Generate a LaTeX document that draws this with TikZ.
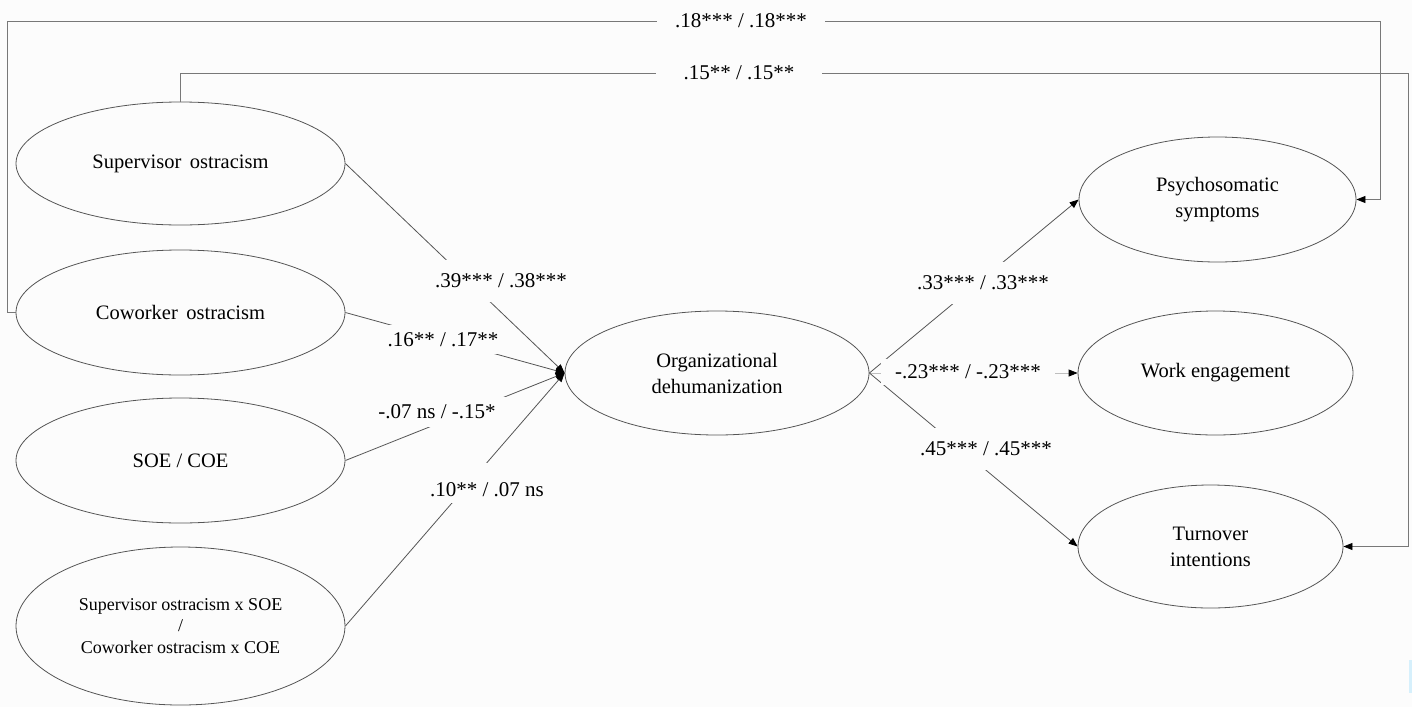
\documentclass[tikz,border=0pt]{standalone}
\usepackage{fontspec}
\setmainfont{Liberation Serif}
\usetikzlibrary{shapes.geometric,arrows.meta}
\definecolor{bg}{RGB}{252,252,252}
\definecolor{ln}{RGB}{85,85,85}
\definecolor{lntop}{RGB}{120,120,120}
\definecolor{lnlight}{RGB}{190,190,190}
\definecolor{sliver}{RGB}{214,240,252}
\tikzset{
  var/.style={ellipse,draw=ln,line width=0.8pt,inner sep=0pt,align=center,
    font=\fontsize{20.5}{26}\selectfont},
  conn/.style={draw=ln,line width=0.8pt},
  topconn/.style={draw=lntop,line width=0.8pt},
  tip/.style={-{Triangle[length=9pt,width=7pt,color=black]}},
  coef/.style={fill=bg,font=\fontsize{21}{25}\selectfont,inner sep=0pt}
}
\begin{document}
\begin{tikzpicture}[x=1pt,y=-1pt]
\fill[bg] (0,0) rectangle (1412,707);
\useasboundingbox (0,0) rectangle (1412,707);
\fill[sliver] (1409,660) rectangle (1412,693);

% ellipses
\node[var,minimum width=329pt,minimum height=123pt] (sup) at (180.5,163.5) {Supervisor\hspace{0.42em}ostracism};
\node[var,minimum width=329pt,minimum height=125pt] (cow) at (180.5,312.5) {Coworker\hspace{0.42em}ostracism};
\node[var,minimum width=329pt,minimum height=125pt] (soe) at (180.5,460.5) {SOE / COE};
\node[var,minimum width=329pt,minimum height=158pt,font=\fontsize{18}{21.5}\selectfont] (int) at (180.5,626) {Supervisor ostracism x SOE\\/\\Coworker ostracism x COE};
\node[var,minimum width=304pt,minimum height=124pt] (org) at (717,373) {Organizational\\dehumanization};
\node[var,minimum width=277pt,minimum height=125pt] (psy) at (1217.5,199.5) {Psychosomatic\\symptoms};
\node[var,minimum width=275pt,minimum height=124pt] (work) at (1215.5,373) {Work engagement};
\node[var,minimum width=265pt,minimum height=123pt] (turn) at (1210.5,546.5) {Turnover\\intentions};

% corner coordinates of the long paths
\coordinate (l1) at (7,21);
\coordinate (r1) at (1380,21);
\coordinate (r2) at (1408,73);

% long paths
\draw[topconn,tip] (cow.west) -| (l1) -- (r1) |- (psy.east);
\draw[topconn,tip] (sup.north) |- (r2) |- (turn.east);

% paths into organizational dehumanization
\draw[conn,tip] (sup.east) -- (org.west);
\draw[conn,tip] (cow.east) -- (org.west);
\draw[conn,tip] (soe.east) -- (org.west);
\draw[conn,tip] (int.east) -- (org.west);

% paths out
\draw[conn,tip] (org.east) -- (psy.west);
\draw[draw=lnlight,line width=0.8pt,tip] (org.east) -- (work.west);
\draw[conn,tip] (org.east) -- (turn.west);

% coefficients
\node[coef,inner xsep=18.5pt,inner ysep=4pt] (k1) at (741,21) {.18*** / .18***};
\node[coef,inner xsep=28pt,inner ysep=4pt] (k2) at (739,73) {.15** / .15**};
\node[coef,inner xsep=2pt,inner ysep=14pt] (k3) at (501,281) {.39*** / .38***};
\node[coef,inner xsep=1pt,inner ysep=7pt] (k4) at (443,339.5) {.16** / .17**};
\node[coef,inner xsep=10pt,inner ysep=8pt] (k5) at (437,412) {-.07 ns / -.15*};
\node[coef,inner xsep=2pt,inner ysep=0pt,text height=33pt,text depth=7pt,anchor=base] (k6) at (487,496) {.10** / .07 ns};
\node[coef,inner xsep=2pt,inner ysep=14pt] (k7) at (983,283) {.33*** / .33***};
\node[coef,inner xsep=14pt,inner ysep=6pt] (k8) at (968,372) {-.23*** / -.23***};
\node[coef,inner xsep=2pt,inner ysep=14pt] (k9) at (986,449) {.45*** / .45***};
\end{tikzpicture}
\end{document}
